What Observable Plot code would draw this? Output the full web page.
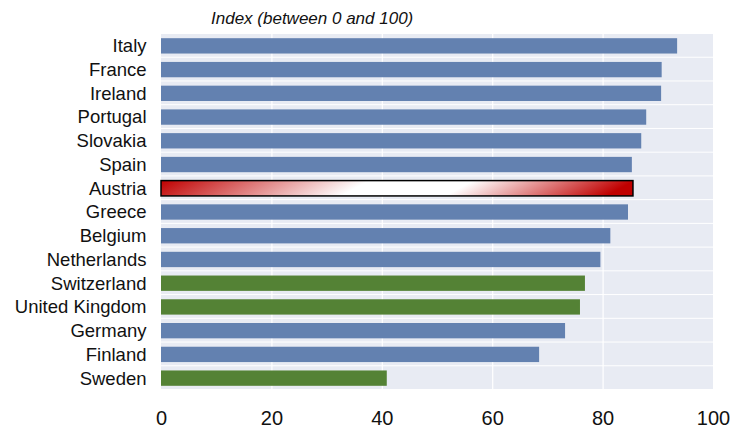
<!DOCTYPE html>
<html>
<head>
<meta charset="utf-8">
<script src="https://cdn.jsdelivr.net/npm/d3@7"></script>
<script src="https://cdn.jsdelivr.net/npm/@observablehq/plot@0.6"></script>
<style>
  html, body { margin: 0; padding: 0; background: #ffffff; }
  #wrap { position: relative; width: 735px; height: 439px; overflow: hidden; }
  #subtitle { position: absolute; left: 211px; top: 9px; font-family: "Liberation Sans", Arial, sans-serif; font-style: italic; font-size: 17px; color: #111; white-space: nowrap; }
  #chart { position: absolute; left: 0; top: 0; }
</style>
</head>
<body>
<div id="wrap">
  <div id="chart"></div>
  <div id="subtitle">Index (between 0 and 100)</div>
</div>
<script>
const countries = ["Italy","France","Ireland","Portugal","Slovakia","Spain","Austria","Greece","Belgium","Netherlands","Switzerland","United Kingdom","Germany","Finland","Sweden"];
const values = [93.5, 90.7, 90.6, 87.9, 87.0, 85.3, 85.5, 84.6, 81.4, 79.6, 76.8, 75.9, 73.2, 68.5, 40.9];
const groups = ["euro","euro","euro","euro","euro","euro","austria","euro","euro","euro","other","other","euro","euro","other"];
const xTicks = [0, 20, 40, 60, 80, 100];
const gridTicks = [20, 40, 60, 80];

const data = countries.map((c, i) => ({country: c, value: values[i], group: groups[i]}));
const colorOf = {euro: "#6381b0", other: "#548235", austria: "url(#austriaGrad)"};

const defs = () => {
  const d = d3.create("svg:defs");
  const g = d.append("linearGradient")
    .attr("id", "austriaGrad")
    .attr("x1", 0).attr("y1", 0).attr("x2", 1).attr("y2", 0.06);
  g.append("stop").attr("offset", "0%").attr("stop-color", "#c00000");
  g.append("stop").attr("offset", "44%").attr("stop-color", "#ffffff");
  g.append("stop").attr("offset", "66%").attr("stop-color", "#ffffff");
  g.append("stop").attr("offset", "100%").attr("stop-color", "#c00000");
  return d.node();
};

const chart = Plot.plot({
  width: 735,
  height: 439,
  marginTop: 34,
  marginBottom: 49,
  marginLeft: 161,
  marginRight: 22,
  style: {fontFamily: "'Liberation Sans', Arial, sans-serif", color: "#111", background: "#ffffff"},
  x: {domain: [0, 100], axis: null},
  y: {domain: countries, padding: 0, round: false, axis: null},
  marks: [
    defs,
    Plot.barX(data, {x1: 0, x2: 100, y: "country", fill: "#e8ebf3", insetBottom: 1}),
    Plot.ruleX(gridTicks, {stroke: "#ffffff", strokeWidth: 1.2}),
    Plot.barX(data, {
      x: "value", y: "country",
      fill: d => colorOf[d.group],
      stroke: d => d.group === "austria" ? "#000000" : "none",
      strokeWidth: 1.5,
      insetTop: 4.2, insetBottom: 4.2
    }),
    Plot.axisY({tickSize: 0, tickPadding: 15, fontSize: 18.5, label: null}),
    Plot.axisX(xTicks, {tickSize: 0, tickPadding: 20, fontSize: 20, label: null})
  ]
});
document.getElementById("chart").appendChild(chart);
</script>
</body>
</html>
